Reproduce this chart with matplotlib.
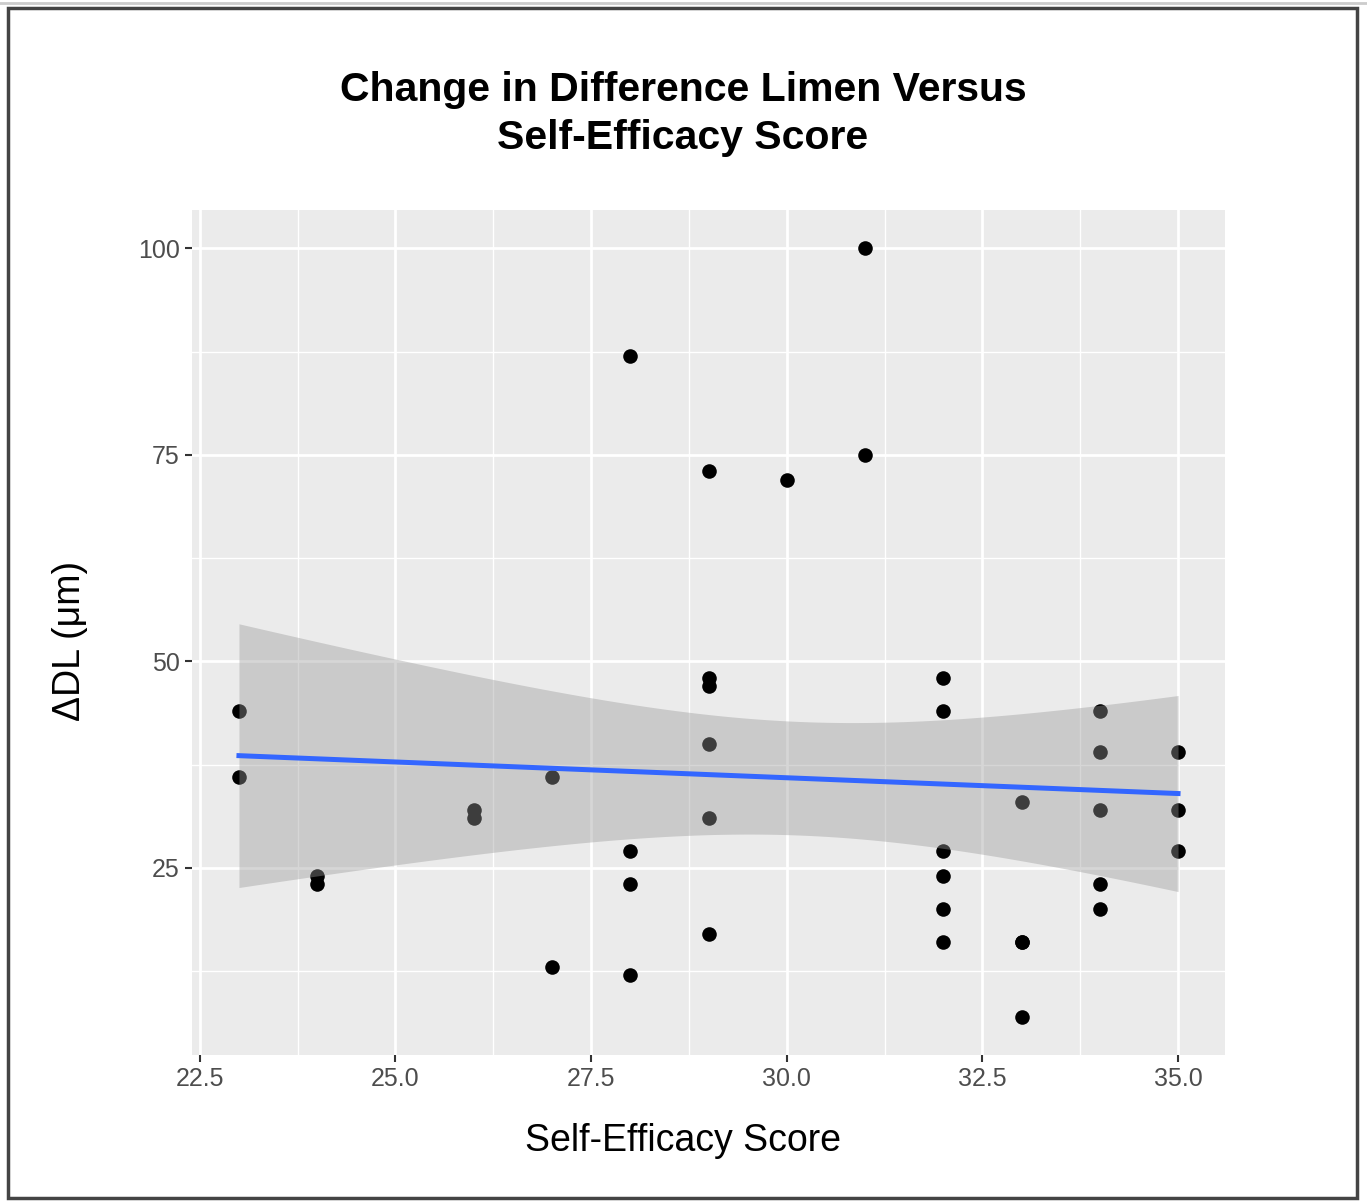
import numpy as np
import matplotlib.pyplot as plt
from matplotlib.patches import Rectangle
from matplotlib.lines import Line2D

plt.rcParams['font.family'] = ['Liberation Sans', 'DejaVu Sans']

# Self-efficacy score vs change in difference limen (um)
score = [23, 23, 24, 24, 26, 26, 27, 27,
         28, 28, 28, 28,
         29, 29, 29, 29, 29, 29,
         30, 31, 31,
         32, 32, 32, 32, 32, 32,
         33, 33, 33, 33,
         34, 34, 34, 34, 34,
         35, 35, 35]
delta_dl = [44, 36, 24, 23, 32, 31, 36, 13,
            87, 27, 23, 12,
            73, 48, 47, 40, 31, 17,
            72, 100, 75,
            48, 44, 27, 24, 20, 16,
            33, 16, 16, 7,
            44, 39, 32, 23, 20,
            39, 32, 27]

x_ticks = [22.5, 25.0, 27.5, 30.0, 32.5, 35.0]
y_ticks = [25, 50, 75, 100]

x = np.array(score, dtype=float)
y = np.array(delta_dl, dtype=float)

# linear fit with 95% confidence band (like geom_smooth(method="lm"))
n = len(x)
slope, intercept = np.polyfit(x, y, 1)
resid = y - (slope * x + intercept)
s = np.sqrt(np.sum(resid ** 2) / (n - 2))
t_crit = 2.026  # t(0.975, df=37)
xs = np.linspace(x.min(), x.max(), 100)
ys = slope * xs + intercept
se = s * np.sqrt(1 / n + (xs - x.mean()) ** 2 / np.sum((x - x.mean()) ** 2))

W, H = 1367, 1201
fig = plt.figure(figsize=(W / 100, H / 100), dpi=100)
ax = fig.add_axes([192 / W, 1 - 1055 / H, (1225 - 192) / W, (1055 - 210) / H])
ax.set_facecolor('#EBEBEB')

ax.scatter(x, y, s=110, color='black', zorder=3, linewidths=0)
ax.fill_between(xs, ys - t_crit * se, ys + t_crit * se, color='#999999',
                alpha=0.4, linewidth=0, zorder=4)
ax.plot(xs, ys, color='#3366FF', linewidth=3.6, zorder=5)

x_pad = 0.05 * (x.max() - x.min())
y_pad = 0.05 * (y.max() - y.min())
ax.set_xlim(x.min() - x_pad, x.max() + x_pad)
ax.set_ylim(y.min() - y_pad, y.max() + y_pad)

ax.set_xticks(x_ticks)
ax.set_xticklabels(['%.1f' % v for v in x_ticks])
ax.set_yticks(y_ticks)
ax.set_xticks([23.75, 26.25, 28.75, 31.25, 33.75], minor=True)
ax.set_yticks([12.5, 37.5, 62.5, 87.5], minor=True)
ax.grid(which='major', color='white', linewidth=2.0, zorder=1)
ax.grid(which='minor', color='white', linewidth=1.0, zorder=1)
ax.set_axisbelow(True)
ax.tick_params(which='major', length=5, width=1.5, color='#333333',
               labelsize=18, labelcolor='#4D4D4D', pad=4)
ax.tick_params(which='minor', length=0)
for sp in ax.spines.values():
    sp.set_visible(False)

fig.text(683 / W, 1 - 90 / H, 'Change in Difference Limen Versus',
         ha='center', va='center', fontsize=29.5, fontweight='bold')
fig.text(683 / W, 1 - 138 / H, 'Self-Efficacy Score',
         ha='center', va='center', fontsize=29.5, fontweight='bold')
fig.text(683 / W, 1 - 1141 / H, 'Self-Efficacy Score', ha='center',
         va='center', fontsize=27)
fig.text(70 / W, 1 - 641 / H, 'ΔDL (μm)', ha='center', va='center',
         fontsize=27, rotation=90)

# frame around the figure
fig.patches.append(Rectangle((8 / W, 1 - 1198 / H), (1357 - 8) / W, (1198 - 8) / H,
                             transform=fig.transFigure, fill=False,
                             edgecolor='#444444', linewidth=2.5))
fig.lines.append(Line2D([0, 1], [1 - 3 / H, 1 - 3 / H], transform=fig.transFigure,
                        color='#CCCCCC', linewidth=2))

fig.savefig('out.png', dpi=100)
